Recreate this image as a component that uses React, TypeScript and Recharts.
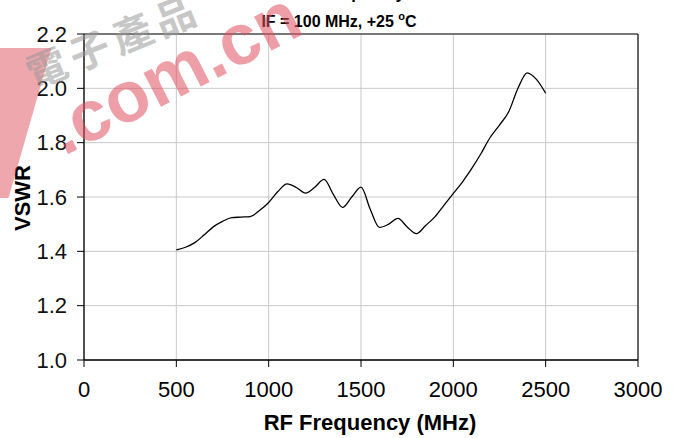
import React from "react";
import {
  LineChart, Line, XAxis, YAxis, CartesianGrid, ReferenceLine,
} from "recharts";

// VSWR vs RF frequency
const freqMHz = [
  500, 550, 600, 650, 700, 750, 800, 850, 900, 950,
  1000, 1050, 1100, 1150, 1200, 1250, 1300, 1350, 1400, 1450,
  1500, 1550, 1600, 1650, 1700, 1750, 1800, 1850, 1900, 1950,
  2000, 2050, 2100, 2150, 2200, 2250, 2300, 2350, 2400, 2450, 2500,
];
const vswr = [
  1.405, 1.415, 1.432, 1.46, 1.49, 1.51, 1.524, 1.526, 1.528, 1.55,
  1.58, 1.62, 1.648, 1.635, 1.614, 1.636, 1.665, 1.61, 1.562, 1.6,
  1.636, 1.555, 1.488, 1.5, 1.521, 1.49, 1.465, 1.495, 1.527, 1.57,
  1.613, 1.656, 1.705, 1.76, 1.82, 1.865, 1.914, 2.0, 2.057, 2.033, 1.982,
];
const xTicks = [0, 500, 1000, 1500, 2000, 2500, 3000];
const yTicks = [1.0, 1.2, 1.4, 1.6, 1.8, 2.0, 2.2];

const data = freqMHz.map((f, i) => ({ freq: f, vswr: vswr[i] }));

const FONT = '"Liberation Sans", Arial, sans-serif';

export default function App() {
  return (
    <div style={{ position: "absolute", left: 0, top: 0, width: 680, height: 438, background: "#fff", overflow: "hidden", fontFamily: FONT }}>
      <LineChart
        width={680}
        height={438}
        data={data}
        margin={{ top: 34, right: 42, bottom: 0, left: 0 }}
      >
        <CartesianGrid stroke="#c8c8c8" strokeWidth={1} />
        <XAxis
          dataKey="freq"
          type="number"
          domain={[0, 3000]}
          ticks={xTicks}
          height={78}
          axisLine={{ stroke: "#000", strokeWidth: 1.3 }}
          tickLine={{ stroke: "#000" }}
          tickSize={7}
          tickMargin={14}
          tick={{ fill: "#000", fontSize: 22, fontFamily: FONT }}
          label={{
            content: () => (
              <g>
                <text x={370} y={430} textAnchor="middle" fontSize={22} fontWeight="bold" fontFamily={FONT} fill="#000">
                  RF Frequency (MHz)
                </text>
                <text x={405} y={-1} textAnchor="end" fontSize={17} fontWeight="bold" fontFamily={FONT} fill="#000">
                  VSWR vs. Frequency
                </text>
                <text x={339} y={27} textAnchor="middle" fontSize={16} fontWeight="bold" fontFamily={FONT} fill="#000">
                  IF = 100 MHz, +25 <tspan dy={-7} fontSize={11}>o</tspan><tspan dy={7}>C</tspan>
                </text>
              </g>
            ),
          }}
        />
        <YAxis
          type="number"
          domain={[1.0, 2.2]}
          ticks={yTicks}
          width={84}
          axisLine={{ stroke: "#000", strokeWidth: 1.3 }}
          tickLine={{ stroke: "#000" }}
          tickSize={7}
          tickMargin={10}
          tickFormatter={(v: number) => v.toFixed(1)}
          tick={{ fill: "#111", fontSize: 22, fontFamily: FONT }}
          label={{
            content: () => (
              <text x={30} y={198} transform="rotate(-90 30 198)" textAnchor="middle" fontSize={22} fontWeight="bold" fontFamily={FONT} fill="#000">
                VSWR
              </text>
            ),
          }}
        />
        <ReferenceLine y={2.2} stroke="#555" strokeWidth={1.3} />
        <ReferenceLine x={3000} stroke="#222" strokeWidth={1.3} />
        <Line
          type="monotone"
          dataKey="vswr"
          stroke="#000"
          strokeWidth={1.3}
          dot={false}
          isAnimationActive={false}
        />
      </LineChart>

      {/* watermark */}
      <div style={{ position: "absolute", left: -22, top: 48, width: 52, height: 150, background: "#e0505e", opacity: 0.5, transform: "skewX(-16deg)", pointerEvents: "none" }} />
      <div style={{ position: "absolute", left: 20, top: 55, fontSize: 40, color: "#9a9a9a", opacity: 0.55, fontFamily: '"Noto Sans CJK TC", sans-serif', fontWeight: 700, transform: "rotate(-22deg)", transformOrigin: "left top", whiteSpace: "nowrap", pointerEvents: "none", letterSpacing: 6, lineHeight: 1 }}>
        電子產品
      </div>
      <div style={{ position: "absolute", left: 36, top: 102, fontSize: 72, color: "#e0505e", opacity: 0.55, fontFamily: FONT, fontWeight: 700, transform: "rotate(-27deg)", transformOrigin: "left top", whiteSpace: "nowrap", pointerEvents: "none", lineHeight: 1 }}>
        .com.cn
      </div>
    </div>
  );
}
